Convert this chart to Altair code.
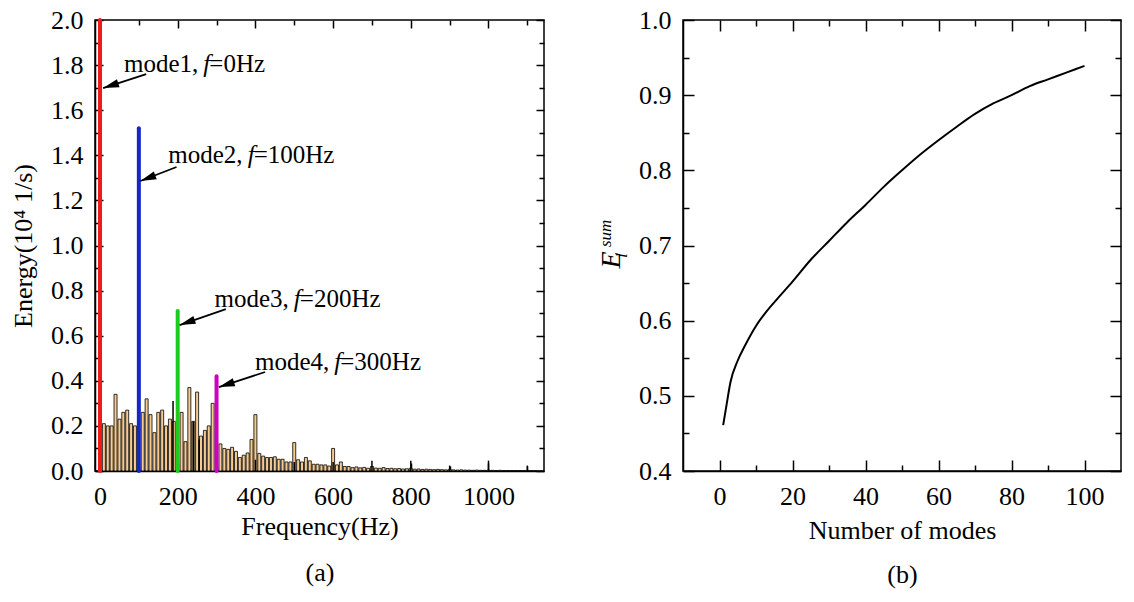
import altair as alt
import pandas as pd

FONT = "Liberation Serif"

# ---------------- panel (a) data ----------------
bar_freq = [10, 20, 30, 40, 50, 60, 70, 80, 90,
            110, 120, 130, 140, 150, 160, 170, 180, 190,
            210, 220, 230, 240, 250, 260, 270, 280, 290,
            310, 320, 330, 340, 350, 360, 370, 380, 390, 400,
            410, 420, 430, 440, 450, 460, 470, 480, 490, 500,
            510, 520, 530, 540, 550, 560, 570, 580, 590, 600,
            610, 620, 630, 640, 650, 660, 670, 680, 690, 700,
            710, 720, 730, 740, 750, 760, 770, 780, 790, 800,
            810, 820, 830, 840, 850, 860, 870, 880, 890, 900,
            910, 920, 930, 940, 950, 960, 970, 980, 990, 1000,
            1010, 1020, 1030, 1040, 1050, 1060, 1070, 1080, 1090, 1100,
            1110, 1120]
bar_energy = [0.21, 0.20, 0.20, 0.34, 0.23, 0.26, 0.27, 0.21, 0.20,
              0.26, 0.32, 0.25, 0.17, 0.26, 0.27, 0.20, 0.23, 0.22,
              0.26, 0.13, 0.37, 0.22, 0.35, 0.155, 0.18, 0.20, 0.30,
              0.12, 0.10, 0.096, 0.105, 0.087, 0.06, 0.07, 0.08, 0.14, 0.25,
              0.078, 0.066, 0.06, 0.06, 0.063, 0.052, 0.052, 0.04, 0.04, 0.126,
              0.05, 0.04, 0.06, 0.045, 0.03, 0.03, 0.027, 0.027, 0.022, 0.10,
              0.027, 0.04, 0.02, 0.02, 0.015, 0.018, 0.014, 0.016, 0.012, 0.02,
              0.013, 0.012, 0.015, 0.011, 0.012, 0.010, 0.011, 0.009, 0.010, 0.012,
              0.008, 0.009, 0.007, 0.008, 0.007, 0.006, 0.007, 0.006, 0.005, 0.007,
              0.005, 0.004, 0.005, 0.004, 0.004, 0.003, 0.004, 0.003, 0.003, 0.004,
              0.003, 0.002, 0.003, 0.002, 0.002, 0.002, 0.002, 0.002, 0.001, 0.002,
              0.001, 0.001]

blk_freq = [100, 188, 200, 240, 255, 300, 400, 500, 600, 700, 800, 900, 1000, 1100]
blk_energy = [0.03, 0.31, 0.04, 0.22, 0.14, 0.03, 0.05, 0.04, 0.04, 0.046, 0.046, 0.024, 0.046, 0.024]

mode_name = ["mode1", "mode2", "mode3", "mode4"]
mode_freq = [0, 100, 200, 300]
mode_energy = [2.0, 1.52, 0.71, 0.42]
mode_color = ["#ef1a1a", "#1426c8", "#1ccc1c", "#d000be"]
mode_hz = ["=0Hz", "=100Hz", "=200Hz", "=300Hz"]

label_freq = [266, 380, 499, 603]
label_energy = [1.769, 1.366, 0.727, 0.448]
arrow_tail_freq = [119, 197, 324, 425]
arrow_tail_energy = [1.76, 1.348, 0.718, 0.439]
arrow_tip_freq = [8, 104, 205, 306]
arrow_tip_energy = [1.698, 1.286, 0.647, 0.372]
arrow_angle = [252, 249, 251, 252]

# ---------------- panel (b) data ----------------
n_modes = [1, 2, 3, 5, 7, 10, 13, 16, 20, 25, 30, 35, 40, 45, 50, 55, 60, 65,
           70, 75, 80, 85, 90, 95, 100]
e_sum = [0.461, 0.49, 0.518, 0.547, 0.567, 0.593, 0.613, 0.630, 0.652, 0.681,
         0.706, 0.731, 0.754, 0.778, 0.800, 0.821, 0.840, 0.858, 0.875, 0.889,
         0.900, 0.912, 0.921, 0.930, 0.939]

# tick positions
a_major_x = [0, 200, 400, 600, 800, 1000]
a_minor_x = [100, 300, 500, 700, 900, 1100]
a_major_y = [0.0, 0.2, 0.4, 0.6, 0.8, 1.0, 1.2, 1.4, 1.6, 1.8, 2.0]
a_minor_y = [0.1, 0.3, 0.5, 0.7, 0.9, 1.1, 1.3, 1.5, 1.7, 1.9]
b_major_x = [0, 20, 40, 60, 80, 100]
b_minor_x = [10, 30, 50, 70, 90]
b_major_y = [0.4, 0.5, 0.6, 0.7, 0.8, 0.9, 1.0]
b_minor_y = [0.45, 0.55, 0.65, 0.75, 0.85, 0.95]

# ---------------- frames ----------------
bars_df = pd.DataFrame({"f": bar_freq, "e": bar_energy})
blk_df = pd.DataFrame({"f": blk_freq, "e": blk_energy})
mode_df = pd.DataFrame({"name": mode_name, "f": mode_freq, "e": mode_energy, "hz": mode_hz,
                        "lf": label_freq, "le": label_energy,
                        "tf": arrow_tail_freq, "te": arrow_tail_energy,
                        "pf": arrow_tip_freq, "pe": arrow_tip_energy, "ang": arrow_angle})
curve_df = pd.DataFrame({"n": n_modes, "s": e_sum})

TAN = "#f6cb92"
W1, W2, H = 449, 438, 451

xs_a = alt.Scale(domain=[0, 1130], nice=False, zero=False)
ys_a = alt.Scale(domain=[0, 2.0], nice=False)
xs_b = alt.Scale(domain=[-10, 110], nice=False, zero=False)
ys_b = alt.Scale(domain=[0.4, 1.0], nice=False, zero=False)

label_common = dict(domainColor="black", domainWidth=1.5, ticks=False, tickSize=0,
                    labelFont=FONT, labelFontSize=26, labelColor="black",
                    titleFont=FONT, titleFontSize=26, titleFontWeight="normal",
                    titleColor="black", grid=False, labelOverlap=False, labelFlush=False)


def tick_axis(values, orient, size):
    return alt.Axis(values=values, orient=orient, labels=False, title=None, domain=False,
                    ticks=True, tickSize=size, offset=-size, tickColor="black",
                    tickWidth=1.5, grid=False)


def tick_layer(df, xf, yf, xs, ys, xv, yv, xo, yo, size):
    return alt.Chart(df).mark_point(opacity=0).encode(
        x=alt.X(xf, scale=xs, axis=tick_axis(xv, xo, size)),
        y=alt.Y(yf, scale=ys, axis=tick_axis(yv, yo, size)),
    )


# ---------------- panel (a) ----------------
ax_a_bottom = alt.Axis(values=a_major_x, orient="bottom", format="d",
                       title=["Frequency(Hz)", "(a)"], titlePadding=4, titleLineHeight=46,
                       labelPadding=12, **label_common)
ax_a_left = alt.Axis(values=a_major_y, orient="left", format=".1f",
                     title="Energy(10\u2074 1/s)", titlePadding=14, labelPadding=12,
                     **label_common)

bars = alt.Chart(bars_df).mark_bar(size=3, color=TAN, stroke="black", strokeWidth=0.8,
                                   orient="vertical").encode(
    x=alt.X("f:Q", scale=xs_a, axis=ax_a_bottom),
    y=alt.Y("e:Q", scale=ys_a, axis=ax_a_left),
)
ticks_a = [
    tick_layer(bars_df, "f:Q", "e:Q", xs_a, ys_a, a_major_x, a_major_y, "bottom", "left", 8),
    tick_layer(bars_df, "f:Q", "e:Q", xs_a, ys_a, a_minor_x, a_minor_y, "bottom", "left", 5),
    tick_layer(bars_df, "f:Q", "e:Q", xs_a, ys_a, a_major_x, a_major_y, "top", "right", 8),
    tick_layer(bars_df, "f:Q", "e:Q", xs_a, ys_a, a_minor_x, a_minor_y, "top", "right", 5),
]
blk = alt.Chart(blk_df).mark_bar(size=1.5, color="black", orient="vertical").encode(
    x=alt.X("f:Q", scale=xs_a, axis=None),
    y=alt.Y("e:Q", scale=ys_a, axis=None),
)
modes = alt.Chart(mode_df).mark_rule(strokeWidth=4, strokeCap="round").encode(
    x=alt.X("f:Q", scale=xs_a, axis=None),
    y=alt.Y("e:Q", scale=ys_a, axis=None),
    y2=alt.datum(0),
    color=alt.Color("name:N", scale=alt.Scale(domain=mode_name, range=mode_color), legend=None),
)
arrow_line = alt.Chart(mode_df).mark_rule(strokeWidth=1.8, color="black").encode(
    x=alt.X("tf:Q", scale=xs_a, axis=None),
    y=alt.Y("te:Q", scale=ys_a, axis=None),
    x2="pf:Q", y2="pe:Q",
)
arrow_head = alt.Chart(mode_df).mark_point(
    shape="M0,0 L0.55,2.1 L-0.55,2.1 Z", filled=True, color="black", opacity=1, size=230,
    strokeWidth=0).encode(
    x=alt.X("pf:Q", scale=xs_a, axis=None),
    y=alt.Y("pe:Q", scale=ys_a, axis=None),
    angle=alt.Angle("ang:Q", scale=None),
)
txt_kw = dict(font=FONT, fontSize=25, color="black", baseline="alphabetic")
lab_pre = alt.Chart(mode_df).transform_calculate(t="datum.name + ','").mark_text(
    align="right", dx=-5, **txt_kw).encode(
    x=alt.X("lf:Q", scale=xs_a, axis=None), y=alt.Y("le:Q", scale=ys_a, axis=None), text="t:N")
lab_f = alt.Chart(mode_df).transform_calculate(t="'f'").mark_text(
    align="left", fontStyle="italic", **txt_kw).encode(
    x=alt.X("lf:Q", scale=xs_a, axis=None), y=alt.Y("le:Q", scale=ys_a, axis=None), text="t:N")
lab_hz = alt.Chart(mode_df).mark_text(align="left", dx=6, **txt_kw).encode(
    x=alt.X("lf:Q", scale=xs_a, axis=None), y=alt.Y("le:Q", scale=ys_a, axis=None), text="hz:N")

panel_a = alt.layer(bars, *ticks_a, blk, modes, arrow_line, arrow_head,
                    lab_pre, lab_f, lab_hz).resolve_axis(
    x="independent", y="independent").properties(width=W1, height=H)

# ---------------- panel (b) ----------------
ax_b_bottom = alt.Axis(values=b_major_x, orient="bottom", format="d",
                       title=["Number of modes", "(b)"], titlePadding=8, titleLineHeight=44,
                       labelPadding=12, **label_common)
ax_b_left = alt.Axis(values=b_major_y, orient="left", format=".1f",
                     title=None, labelPadding=12, **label_common)

curve = alt.Chart(curve_df).mark_line(color="black", strokeWidth=2, interpolate="monotone").encode(
    x=alt.X("n:Q", scale=xs_b, axis=ax_b_bottom),
    y=alt.Y("s:Q", scale=ys_b, axis=ax_b_left),
)
ticks_b = [
    tick_layer(curve_df, "n:Q", "s:Q", xs_b, ys_b, b_major_x, b_major_y, "bottom", "left", 11),
    tick_layer(curve_df, "n:Q", "s:Q", xs_b, ys_b, b_minor_x, b_minor_y, "bottom", "left", 6),
    tick_layer(curve_df, "n:Q", "s:Q", xs_b, ys_b, b_major_x, b_major_y, "top", "right", 11),
    tick_layer(curve_df, "n:Q", "s:Q", xs_b, ys_b, b_minor_x, b_minor_y, "top", "right", 6),
]
ttl_df = pd.DataFrame({"t": ["E"]})
t_e = alt.Chart(ttl_df).mark_text(font=FONT, fontSize=28, fontStyle="italic", angle=270,
                                  align="center", baseline="alphabetic", color="black").encode(
    text="t:N", x=alt.value(-63), y=alt.value(240))
t_sum = alt.Chart(ttl_df).transform_calculate(t="'sum'").mark_text(
    font=FONT, fontSize=17, fontStyle="italic", angle=270, align="left",
    baseline="alphabetic", color="black").encode(text="t:N", x=alt.value(-72), y=alt.value(227))
t_i = alt.Chart(ttl_df).transform_calculate(t="'i'").mark_text(
    font=FONT, fontSize=17, fontStyle="italic", angle=270, align="left",
    baseline="alphabetic", color="black").encode(text="t:N", x=alt.value(-56), y=alt.value(238))

panel_b = alt.layer(curve, *ticks_b, t_e, t_sum, t_i).resolve_axis(
    x="independent", y="independent").properties(width=W2, height=H)

chart = alt.hconcat(panel_a, panel_b, spacing=50).properties(
    padding={"left": 9, "top": 6, "right": 4, "bottom": 4},
    background="white",
).configure_view(stroke="black", strokeWidth=1.5)

chart.save("out.html", embed_options={"renderer": "svg", "actions": False})
